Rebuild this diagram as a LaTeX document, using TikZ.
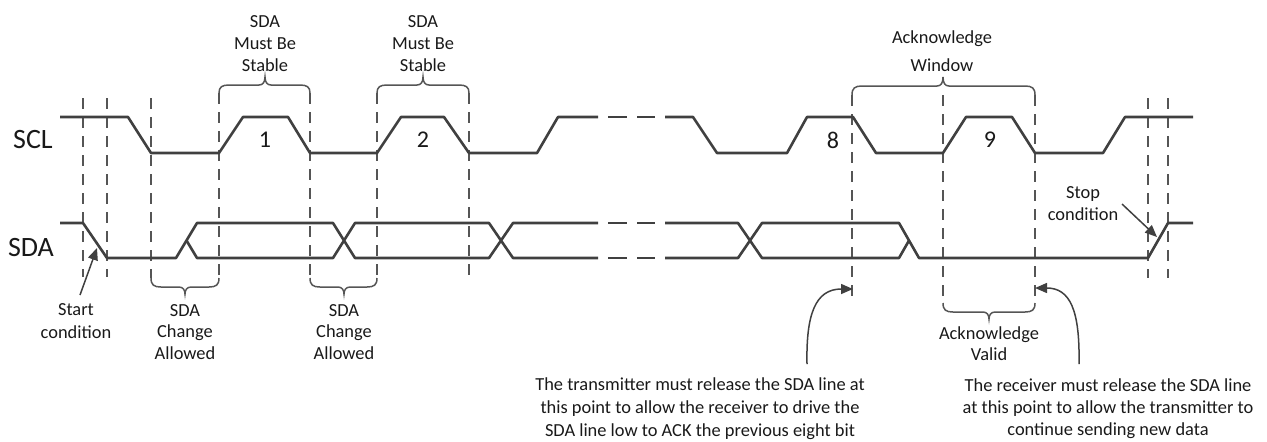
\documentclass[tikz,border=0pt]{standalone}
\usepackage{fontspec}
\setmainfont{Carlito}
\usetikzlibrary{arrows.meta}
\definecolor{sig}{RGB}{64,64,64}
\definecolor{txt}{RGB}{25,25,25}
\definecolor{dsh}{RGB}{85,85,85}
\begin{document}
\begin{tikzpicture}[x=0.5pt,y=-0.5pt,
  signal/.style={draw=sig, line width=1.3pt, line join=round},
  guide/.style={draw=dsh, line width=0.75pt, dash pattern=on 5.5pt off 4pt},
  bracepath/.style={draw=dsh, line width=0.75pt},
  note/.style={text=txt, font=\fontsize{9.2}{11}\selectfont, align=center, inner sep=0pt},
  lbl/.style={text=txt, font=\fontsize{14}{16}\selectfont, inner sep=0pt},
  bitno/.style={text=txt, font=\fontsize{12}{14}\selectfont, inner sep=0pt},
  pointer/.style={draw=sig, line width=0.75pt, -{Triangle[length=6pt,width=5pt]}}
]
\useasboundingbox (0,0) rectangle (1267,441);

% ---------- guide lines ----------
\foreach \x/\a/\b in {83/98/277, 107/98/277, 151/98/278, 219/93/278, 310/93/278,
                     377/93/278, 469/93/278, 852/95/297, 943/95/303, 1035/95/303,
                     1148/98/278, 1168/98/278}
  \draw[guide] (\x,\a) -- (\x,\b);

% ---------- SCL ----------
\draw[signal] (60,117) -- (128,117) -- (151,153) -- (219,153) -- (243,117) -- (288,117)
  -- (310,153) -- (377,153) -- (401,117) -- (444,117) -- (469,153) -- (537,153)
  -- (558,117) -- (598,117);
\draw[signal] (608,117) -- (627,117);
\draw[signal] (637,117) -- (655,117);
\draw[signal] (665,117) -- (693,117) -- (717,153) -- (787,153) -- (807,117) -- (853,117)
  -- (876,153) -- (943,153) -- (966,117) -- (1012,117) -- (1035,153) -- (1103,153)
  -- (1125,117) -- (1193,117);

% ---------- SDA ----------
\draw[signal] (60,223) -- (83,223) -- (107,258) -- (176,258) -- (197,223) -- (333,223)
  -- (355,258) -- (489,258) -- (513,223) -- (598,223);
\draw[signal] (186.5,240.5) -- (197,258) -- (333,258) -- (355,223) -- (489,223)
  -- (513,258) -- (598,258);
\foreach \yy in {223,258} {
  \draw[signal] (608,\yy) -- (627,\yy);
  \draw[signal] (637,\yy) -- (655,\yy);
}
\draw[signal] (665,223) -- (738,223) -- (762,258) -- (899,258) -- (909,240.5);
\draw[signal] (665,258) -- (738,258) -- (762,223) -- (899,223) -- (919,258)
  -- (1148,258) -- (1168,223) -- (1193,223);

% ---------- braces ----------
% top: SDA must be stable (1)
\draw[bracepath] (219,93) .. controls (219,87) and (222,85) .. (229,85) -- (259,85)
  .. controls (263,85) and (265,82) .. (265,77) .. controls (265,82) and (267,85) .. (271,85)
  -- (300,85) .. controls (307,85) and (310,87) .. (310,93);
% top: SDA must be stable (2)
\draw[bracepath] (377,93) .. controls (377,87) and (380,85) .. (387,85) -- (417,85)
  .. controls (421,85) and (423,82) .. (423,77) .. controls (423,82) and (425,85) .. (429,85)
  -- (459,85) .. controls (466,85) and (469,87) .. (469,93);
% top: acknowledge window
\draw[bracepath] (852,95) .. controls (852,88) and (855,86) .. (862,86) -- (937,86)
  .. controls (941,86) and (943,83) .. (943,77) .. controls (943,83) and (945,86) .. (949,86)
  -- (1025,86) .. controls (1032,86) and (1035,88) .. (1035,95);
% bottom: SDA change allowed (1)
\draw[bracepath] (151,278) .. controls (151,285) and (154,287) .. (161,287) -- (179,287)
  .. controls (183,287) and (185,290) .. (185,294) .. controls (185,290) and (187,287) .. (191,287)
  -- (209,287) .. controls (216,287) and (219,285) .. (219,278);
% bottom: SDA change allowed (2)
\draw[bracepath] (310,278) .. controls (310,285) and (313,287) .. (320,287) -- (338,287)
  .. controls (342,287) and (344,290) .. (344,294) .. controls (344,290) and (346,287) .. (350,287)
  -- (367,287) .. controls (374,287) and (377,285) .. (377,278);
% bottom: acknowledge valid
\draw[bracepath] (943,303) .. controls (943,310) and (946,312) .. (953,312) -- (983,312)
  .. controls (987,312) and (989,315) .. (989,319) .. controls (989,315) and (991,312) .. (995,312)
  -- (1025,312) .. controls (1032,312) and (1035,310) .. (1035,303);

% ---------- labels ----------
\node[lbl] (scl) at (33,140) {SCL};
\node[lbl] (sda) at (31,247) {SDA};
\node[bitno] (b1) at (265,140) {1};
\node[bitno] (b2) at (423,140) {2};
\node[bitno] (b8) at (833,140) {8};
\node[bitno] (b9) at (990,140) {9};

\node[note] (stable1) at (265,44) {SDA\\Must Be\\Stable};
\node[note] (stable2) at (423,44) {SDA\\Must Be\\Stable};
\node[note, font=\fontsize{9.2}{14}\selectfont] (ackwin) at (942,51) {Acknowledge\\Window};
\node[note, font=\fontsize{9.2}{10.8}\selectfont] (chg1) at (185,332) {SDA\\Change\\Allowed};
\node[note, font=\fontsize{9.2}{10.8}\selectfont] (chg2) at (344,332) {SDA\\Change\\Allowed};
\node[note, font=\fontsize{9.2}{11.5}\selectfont] (start) at (76,321) {Start\\condition};
\node[note] (stop) at (1083,204) {Stop\\condition};
\node[note, font=\fontsize{9.2}{10.5}\selectfont] (ackvalid) at (989,344) {Acknowledge\\Valid};
\node[note, font=\fontsize{9.2}{11.5}\selectfont] (txnote) at (700,409)
  {The transmitter must release the SDA line at\\this point to allow the receiver to drive the\\SDA line low to ACK the previous eight bit};
\node[note] (rxnote) at (1108,409)
  {The receiver must release the SDA line\\at this point to allow the transmitter to\\continue sending new data};

% ---------- pointers ----------
\coordinate (startfrom) at (80,295);
\coordinate (startto) at (97,248);
\draw[pointer] (startfrom) -- (startto);
\coordinate (stopfrom) at (1122,204);
\coordinate (stopto) at (1157,237);
\draw[pointer] (stopfrom) -- (stopto);
\coordinate (txfrom) at (807,364);
\coordinate (txto) at (853,289);
\draw[pointer] (txfrom) .. controls (806,315) and (815,289) .. (txto);
\coordinate (rxfrom) at (1079,364);
\coordinate (rxto) at (1035,288);
\draw[pointer] (rxfrom) .. controls (1080,310) and (1070,288) .. (rxto);
\end{tikzpicture}
\end{document}
